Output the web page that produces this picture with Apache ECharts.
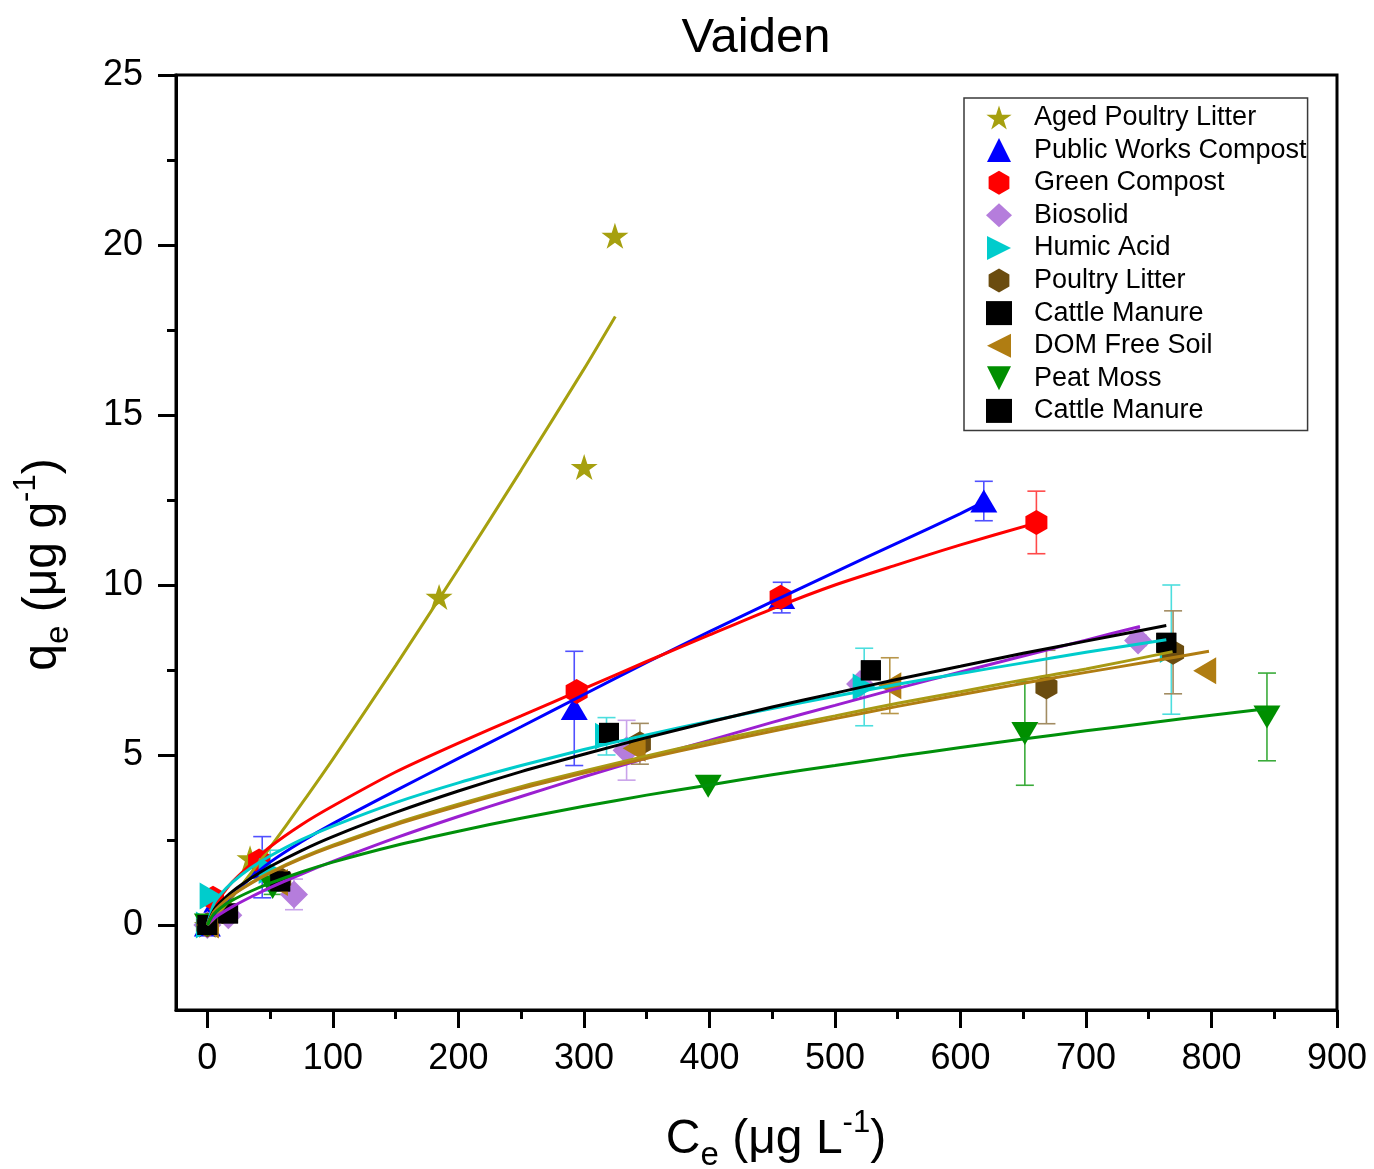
<!DOCTYPE html>
<html>
<head>
<meta charset="utf-8">
<script src="https://cdn.jsdelivr.net/npm/echarts@6/dist/echarts.min.js"></script>
<style>
  html, body { margin: 0; padding: 0; background: #fff; }
  #chart { width: 1374px; height: 1169px; }
</style>
</head>
<body>
<div id="chart"></div>
<script>
// Sorption isotherms, Vaiden soil: measured qe vs Ce with Freundlich fit curves.

// ---- axis ticks ----
const xMajorTicks = [0, 100, 200, 300, 400, 500, 600, 700, 800, 900];
const xMinorTicks = [50, 150, 250, 350, 450, 550, 650, 750, 850];
const yMajorTicks = [0, 5, 10, 15, 20, 25];
const yMinorTicks = [2.5, 7.5, 12.5, 17.5, 22.5];

// ---- Aged Poultry Litter ----
const aplCe = [0, 34, 184.6, 300.2, 324.7];
const aplQe = [0, 1.96, 9.65, 13.47, 20.27];
const aplErr = [0, 0, 0, 0, 0];
const aplFitCe = [0, 5, 10, 20, 35, 50, 75, 100, 150, 200, 250, 300, 325];
const aplFitQe = [0, 0.18, 0.39, 0.83, 1.54, 2.28, 3.56, 4.88, 7.63, 10.47, 13.38, 16.35, 17.9];

// ---- Public Works Compost ----
const pwcCe = [0, 7.5, 43.7, 292.3, 457.6, 618.6];
const pwcQe = [0, 0.7, 1.7, 6.37, 9.63, 12.47];
const pwcErr = [0, 0, 0.9, 1.68, 0.45, 0.58];
const pwcFitCe = [0, 5, 10, 20, 35, 50, 75, 100, 150, 200, 250, 300, 350, 400, 450, 500, 550, 600, 619];
const pwcFitQe = [0, 0.3, 0.5, 0.88, 1.4, 1.85, 2.45, 2.98, 3.95, 4.9, 5.83, 6.78, 7.72, 8.63, 9.51, 10.38, 11.24, 12.1, 12.45];

// ---- Green Compost ----
const gcCe = [0, 4.5, 41.2, 294.2, 456.7, 660.5];
const gcQe = [0, 0.79, 1.88, 6.87, 9.64, 11.84];
const gcErr = [0, 0, 0, 0, 0, 0.92];
const gcFitCe = [0, 5, 10, 20, 35, 50, 75, 100, 150, 200, 250, 300, 350, 400, 450, 500, 550, 600, 660];
const gcFitQe = [0, 0.5, 0.8, 1.27, 1.8, 2.3, 2.95, 3.5, 4.5, 5.35, 6.15, 6.95, 7.75, 8.53, 9.3, 10.0, 10.6, 11.18, 11.82];

// ---- Biosolid ----
const bioCe = [0, 16.7, 69, 334, 520, 741.5];
const bioQe = [0, 0.29, 0.9, 5.14, 7.09, 8.37];
const bioErr = [0, 0, 0.45, 0.88, 0, 0.15];
const bioFitCe = [0, 5, 10, 20, 35, 50, 75, 100, 150, 200, 250, 300, 350, 400, 450, 500, 550, 600, 650, 700, 743];
const bioFitQe = [0, 0.19, 0.32, 0.54, 0.83, 1.1, 1.5, 1.87, 2.56, 3.19, 3.78, 4.36, 4.91, 5.43, 5.96, 6.46, 6.96, 7.44, 7.91, 8.38, 8.78];

// ---- Humic Acid ----
const haCe = [0, 3, 50, 318, 523.3, 768];
const haQe = [0, 0.85, 1.6, 5.55, 7.0, 8.1];
const haErr = [0, 0.1, 0.6, 0.55, 1.14, 1.9];
const haFitCe = [0, 5, 10, 20, 35, 50, 75, 100, 150, 200, 250, 300, 350, 400, 450, 500, 550, 600, 650, 700, 764];
const haFitQe = [0, 0.61, 0.88, 1.26, 1.69, 2.03, 2.51, 2.91, 3.6, 4.18, 4.69, 5.16, 5.59, 5.99, 6.37, 6.73, 7.08, 7.4, 7.71, 8.02, 8.39];

// ---- Poultry Litter ----
const plCe = [0, 12, 58, 344.6, 668.5, 769.4];
const plQe = [0, 0.4, 1.35, 5.33, 7.0, 8.02];
const plErr = [0, 0, 0, 0.6, 1.08, 1.22];
const plFitCe = [0, 5, 10, 20, 35, 50, 75, 100, 150, 200, 250, 300, 350, 400, 450, 500, 550, 600, 650, 700, 769];
const plFitQe = [0, 0.39, 0.59, 0.89, 1.25, 1.55, 1.98, 2.35, 2.99, 3.55, 4.07, 4.53, 4.97, 5.39, 5.78, 6.15, 6.52, 6.86, 7.21, 7.53, 8.04];

// ---- Cattle Manure ----
const cmCe = [0, 16.5, 58, 320, 528.6, 764];
const cmQe = [0, 0.34, 1.28, 5.65, 7.49, 8.30];
const cmErr = [0, 0, 0, 0, 0, 0];
const cmFitCe = [0, 5, 10, 20, 35, 50, 75, 100, 150, 200, 250, 300, 350, 400, 450, 500, 550, 600, 650, 700, 764];
const cmFitQe = [0, 0.43, 0.65, 0.99, 1.38, 1.72, 2.19, 2.6, 3.31, 3.94, 4.51, 5.02, 5.51, 5.97, 6.41, 6.82, 7.23, 7.61, 7.99, 8.35, 8.81];

// ---- DOM Free Soil ----
const domCe = [0, 10, 55, 340, 543.7, 794.6];
const domQe = [0, 0.45, 1.25, 5.2, 7.04, 7.48];
const domErr = [0, 0, 0, 0, 0.82, 0];
const domFitCe = [0, 5, 10, 20, 35, 50, 75, 100, 150, 200, 250, 300, 350, 400, 450, 500, 550, 600, 650, 700, 750, 798];
const domFitQe = [0, 0.38, 0.58, 0.88, 1.23, 1.53, 1.95, 2.31, 2.95, 3.5, 4.01, 4.47, 4.9, 5.31, 5.7, 6.07, 6.43, 6.77, 7.11, 7.43, 7.74, 8.05];

// ---- Peat Moss ----
const pmCe = [0, 52, 399, 651.3, 844.2];
const pmQe = [0, 1.1, 4.08, 5.63, 6.12];
const pmErr = [0, 0.2, 0, 1.52, 1.29];
const pmFitCe = [0, 5, 10, 20, 35, 50, 75, 100, 150, 200, 250, 300, 350, 400, 450, 500, 550, 600, 650, 700, 750, 800, 844];
const pmFitQe = [0, 0.32, 0.49, 0.73, 1.0, 1.23, 1.56, 1.85, 2.34, 2.76, 3.14, 3.49, 3.82, 4.12, 4.42, 4.69, 4.96, 5.22, 5.47, 5.71, 5.94, 6.17, 6.36];

// ---- symbols ----
const STAR = 'path://M50,0 L61.23,34.55 L97.55,34.55 L68.16,55.9 L79.39,90.45 L50,69.1 L20.61,90.45 L31.84,55.9 L2.45,34.55 L38.77,34.55 Z';
const HEX = 'path://M50,0 L93.3,25 L93.3,75 L50,100 L6.7,75 L6.7,25 Z';
const TRI_UP = 'path://M50,0 L100,100 L0,100 Z';
const TRI_RIGHT = 'path://M0,0 L100,50 L0,100 Z';
const TRI_LEFT = 'path://M100,0 L0,50 L100,100 Z';
const TRI_DOWN = 'path://M0,0 L100,0 L50,100 Z';

const FONT = '"Liberation Sans", Arial, Helvetica, sans-serif';

const groups = [
  { name: 'Aged Poultry Litter', ce: aplCe, qe: aplQe, err: aplErr, fitCe: aplFitCe, fitQe: aplFitQe,
    color: '#a6a00f', line: '#a6a00f', bar: '#c4bf55', symbol: STAR, size: [27, 26] },
  { name: 'Public Works Compost', ce: pwcCe, qe: pwcQe, err: pwcErr, fitCe: pwcFitCe, fitQe: pwcFitQe,
    color: '#0000ff', line: '#0000ff', bar: '#5050ff', symbol: TRI_UP, size: [27, 23] },
  { name: 'Green Compost', ce: gcCe, qe: gcQe, err: gcErr, fitCe: gcFitCe, fitQe: gcFitQe,
    color: '#ff0000', line: '#ff0000', bar: '#ff4a4a', symbol: HEX, size: [22, 25] },
  { name: 'Biosolid', ce: bioCe, qe: bioQe, err: bioErr, fitCe: bioFitCe, fitQe: bioFitQe,
    color: '#b57ddc', line: '#9b1fd1', bar: '#c9a3ea', symbol: 'diamond', size: [28, 28] },
  { name: 'Humic Acid', ce: haCe, qe: haQe, err: haErr, fitCe: haFitCe, fitQe: haFitQe,
    color: '#00cccc', line: '#00cccc', bar: '#4cdede', symbol: TRI_RIGHT, size: [23, 27] },
  { name: 'Poultry Litter', ce: plCe, qe: plQe, err: plErr, fitCe: plFitCe, fitQe: plFitQe,
    color: '#6b4c0f', line: '#a89a14', bar: '#a28c62', symbol: HEX, size: [22, 25] },
  { name: 'Cattle Manure', ce: cmCe, qe: cmQe, err: cmErr, fitCe: cmFitCe, fitQe: cmFitQe,
    color: '#000000', line: '#000000', bar: '#444444', symbol: 'rect', size: [20, 20] },
  { name: 'DOM Free Soil', ce: domCe, qe: domQe, err: domErr, fitCe: domFitCe, fitQe: domFitQe,
    color: '#b07d12', line: '#b07d12', bar: '#b8964a', symbol: TRI_LEFT, size: [23, 27] },
  { name: 'Peat Moss', ce: pmCe, qe: pmQe, err: pmErr, fitCe: pmFitCe, fitQe: pmFitQe,
    color: '#008f00', line: '#00900a', bar: '#3aab3a', symbol: TRI_DOWN, size: [27, 23] },
  // second cattle manure entry (same sample set, listed twice in the key)
  { name: 'Cattle Manure ', ce: cmCe, qe: cmQe, err: cmErr, fitCe: null, fitQe: null,
    color: '#000000', line: '#000000', bar: '#444444', symbol: 'rect', size: [20, 20] }
];

const zip = (a, b) => a.map((v, i) => [v, b[i]]);

function errorBarRenderer(color) {
  return function (params, api) {
    const x = api.value(0), y = api.value(1), e = api.value(2);
    const top = api.coord([x, y + e]);
    const bot = api.coord([x, y - e]);
    const hw = 9;
    const st = { stroke: color, lineWidth: 1.6 };
    return {
      type: 'group',
      children: [
        { type: 'line', shape: { x1: top[0], y1: top[1], x2: bot[0], y2: bot[1] }, style: st },
        { type: 'line', shape: { x1: top[0] - hw, y1: top[1], x2: top[0] + hw, y2: top[1] }, style: st },
        { type: 'line', shape: { x1: bot[0] - hw, y1: bot[1], x2: bot[0] + hw, y2: bot[1] }, style: st }
      ]
    };
  };
}

const series = [];
groups.forEach((g) => {
  const bars = g.ce.map((c, i) => [c, g.qe[i], g.err[i]]).filter(d => d[2] > 0);
  if (bars.length) {
    series.push({
      type: 'custom', name: g.name + ' error', z: 2, silent: true,
      renderItem: errorBarRenderer(g.bar),
      encode: { x: 0, y: 1 },
      data: bars
    });
  }
  series.push({
    type: 'scatter', name: g.name, z: 3,
    symbol: g.symbol, symbolSize: g.size,
    itemStyle: { color: g.color, opacity: 1 },
    data: zip(g.ce, g.qe)
  });
  if (g.fitCe) {
    series.push({
      type: 'line', name: g.name + ' fit', z: 4, silent: true,
      showSymbol: false, symbol: 'none', smooth: 0.25,
      lineStyle: { color: g.line, width: 3 },
      data: zip(g.fitCe, g.fitQe)
    });
  }
});

const axisNameRich = {
  m: { fontSize: 48, fontFamily: FONT, color: '#000', lineHeight: 64, verticalAlign: 'middle' },
  sb: { fontSize: 33, fontFamily: FONT, color: '#000', lineHeight: 34, verticalAlign: 'bottom' },
  sp: { fontSize: 31, fontFamily: FONT, color: '#000', lineHeight: 30, verticalAlign: 'top' }
};

const chart = echarts.init(document.getElementById('chart'), null, { renderer: 'canvas' });
chart.setOption({
  animation: false,
  backgroundColor: '#ffffff',
  graphic: [{
    type: 'text', x: 756, y: 14,
    style: { text: 'Vaiden', fontSize: 49, fontFamily: FONT, fill: '#000', align: 'center', verticalAlign: 'top' }
  }],
  grid: {
    left: 176, right: 37, top: 75, bottom: 159,
    show: true, borderColor: '#000', borderWidth: 3,
    containLabel: false, outerBoundsMode: 'none'
  },
  legend: {
    orient: 'vertical', left: 964, top: 98,
    data: groups.map(g => g.name),
    backgroundColor: '#ffffff',
    borderColor: '#3a3a3a', borderWidth: 1.5,
    padding: [6, 1, 6, 22],
    itemGap: 5.6, itemWidth: 26, itemHeight: 24,
    textStyle: { fontSize: 27, fontFamily: FONT, color: '#000', padding: [0, 0, 0, 17] },
    selectedMode: false
  },
  xAxis: [{
    type: 'value', min: -25, max: 900,
    position: 'bottom',
    name: '{m|C}{sb|e}{m| (\u03bcg L}{sp|-1}{m|)}',
    nameLocation: 'middle', nameGap: 98,
    nameTextStyle: { rich: axisNameRich, padding: [0, 0, 0, 39] },
    axisLine: { onZero: false, lineStyle: { color: '#000', width: 3 } },
    axisTick: { show: true, length: 18, inside: false, customValues: xMajorTicks, lineStyle: { color: '#000', width: 3 } },
    axisLabel: { customValues: xMajorTicks, fontSize: 36, fontFamily: FONT, color: '#000', margin: 31 },
    splitLine: { show: false }
  }, {
    type: 'value', min: -25, max: 900,
    position: 'bottom',
    axisLine: { show: false, onZero: false },
    axisTick: { show: true, length: 9, inside: false, customValues: xMinorTicks, lineStyle: { color: '#000', width: 3 } },
    axisLabel: { show: false },
    splitLine: { show: false }
  }],
  yAxis: [{
    type: 'value', min: -2.5, max: 25,
    position: 'left',
    name: '{m|q}{sb|e}{m| (\u03bcg g}{sp|-1}{m|)}',
    nameLocation: 'middle', nameGap: 101, nameRotate: 90,
    nameTextStyle: { rich: axisNameRich, padding: [0, 44, 0, 0] },
    axisLine: { onZero: false, lineStyle: { color: '#000', width: 3 } },
    axisTick: { show: true, length: 18, inside: false, customValues: yMajorTicks, lineStyle: { color: '#000', width: 3 } },
    axisLabel: { customValues: yMajorTicks, fontSize: 36, fontFamily: FONT, color: '#000', margin: 33 },
    splitLine: { show: false }
  }, {
    type: 'value', min: -2.5, max: 25,
    position: 'left',
    axisLine: { show: false, onZero: false },
    axisTick: { show: true, length: 9, inside: false, customValues: yMinorTicks, lineStyle: { color: '#000', width: 3 } },
    axisLabel: { show: false },
    splitLine: { show: false }
  }],
  series: series
});
</script>
</body>
</html>
